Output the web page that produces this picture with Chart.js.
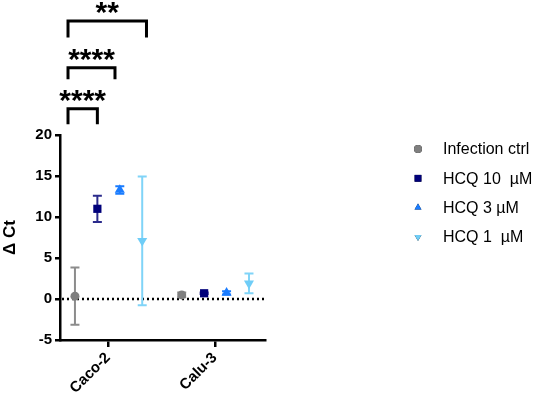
<!DOCTYPE html>
<html>
<head>
<meta charset="utf-8">
<script src="https://cdn.jsdelivr.net/npm/chart.js@4"></script>
<style>
  body { margin: 0; background: #fff; }
</style>
</head>
<body>
<canvas id="myChart" width="536" height="397"></canvas>
<script>
// values
var categories = ['Caco-2', 'Calu-3'];
var seriesNames = ['Infection ctrl', 'HCQ 10  \u00b5M', 'HCQ 3 \u00b5M', 'HCQ 1  \u00b5M'];
var ctrlMean = [0.35, 0.5];
var ctrlSd = [3.5, 0.3];
var hcq10Mean = [11.0, 0.7];
var hcq10Sd = [1.6, 0.1];
var hcq3Mean = [13.3, 0.75];
var hcq3Sd = [0.45, 0.2];
var hcq1Mean = [7.1, 1.9];
var hcq1Sd = [7.85, 1.2];
var yTicks = [-5, 0, 5, 10, 15, 20];

// significance brackets (Caco-2 group)
var sigLabels = ['****', '****', '**'];
var sigFrom = [-0.375, -0.375, -0.375];
var sigTo = [-0.1, 0.065, 0.36];
var sigTop = [23.2, 28.2, 33.9];
var sigLeg = [21.3, 26.8, 31.9];

var means = [ctrlMean, hcq10Mean, hcq3Mean, hcq1Mean];
var sds = [ctrlSd, hcq10Sd, hcq3Sd, hcq1Sd];
var dodge = [-0.31, -0.10, 0.11, 0.32];
var colors = ['#7f7f7f', '#00007a', '#1a7cff', '#6fcdf7'];
var barColors = ['#8c8c8c', '#2b2b8c', '#1a7cff', '#80d4f8'];
var shapes = ['circle', 'rect', 'triangle', 'triangle'];
var rotations = [0, 0, 0, 180];
var radii = [4.5, 5.8, 5.8, 5.8];

var datasets = [];
for (var s = 0; s < seriesNames.length; s++) {
    var pts = [];
    for (var c = 0; c < categories.length; c++) {
        pts.push({ x: c + dodge[s], y: means[s][c], sd: sds[s][c] });
    }
    datasets.push({
        label: seriesNames[s],
        data: pts,
        backgroundColor: colors[s],
        borderColor: colors[s],
        borderWidth: 0,
        pointStyle: shapes[s],
        rotation: rotations[s],
        pointRadius: radii[s],
        pointHoverRadius: radii[s],
        errColor: barColors[s]
    });
}

var font = 'Liberation Sans, Arial, Helvetica, sans-serif';

var extras = {
    id: 'extras',
    beforeDatasetsDraw: function(chart) {
        var ctx = chart.ctx;
        var xs = chart.scales.x, ys = chart.scales.y;
        // dotted zero line
        ctx.save();
        ctx.strokeStyle = '#000';
        ctx.lineWidth = 2.5;
        ctx.setLineDash([2, 3]);
        ctx.beginPath();
        ctx.moveTo(chart.chartArea.left + 2, ys.getPixelForValue(0));
        ctx.lineTo(chart.chartArea.right, ys.getPixelForValue(0));
        ctx.stroke();
        ctx.restore();
        // error bars
        chart.data.datasets.forEach(function(ds) {
            ctx.save();
            ctx.strokeStyle = ds.errColor;
            ctx.lineWidth = 2;
            ds.data.forEach(function(p) {
                var x = xs.getPixelForValue(p.x);
                var y1 = ys.getPixelForValue(p.y - p.sd);
                var y2 = ys.getPixelForValue(p.y + p.sd);
                ctx.beginPath();
                ctx.moveTo(x, y1); ctx.lineTo(x, y2);
                ctx.moveTo(x - 4.5, y1); ctx.lineTo(x + 4.5, y1);
                ctx.moveTo(x - 4.5, y2); ctx.lineTo(x + 4.5, y2);
                ctx.stroke();
            });
            ctx.restore();
        });
    },
    afterDraw: function(chart) {
        var ctx = chart.ctx;
        var xs = chart.scales.x, ys = chart.scales.y;
        // brackets
        ctx.save();
        ctx.strokeStyle = '#000';
        ctx.fillStyle = '#000';
        ctx.lineWidth = 3;
        ctx.lineCap = 'butt';
        ctx.textAlign = 'center';
        ctx.textBaseline = 'alphabetic';
        ctx.font = 'bold 30px ' + font;
        for (var i = 0; i < sigLabels.length; i++) {
            var xa = xs.getPixelForValue(sigFrom[i]);
            var xb = xs.getPixelForValue(sigTo[i]);
            var yt = ys.getPixelForValue(sigTop[i]);
            var yl = ys.getPixelForValue(sigLeg[i]);
            ctx.beginPath();
            ctx.moveTo(xa, yl); ctx.lineTo(xa, yt); ctx.lineTo(xb, yt); ctx.lineTo(xb, yl);
            ctx.stroke();
            ctx.fillText(sigLabels[i], (xa + xb) / 2, yt + 1);
        }
        ctx.restore();
        // legend
        ctx.save();
        ctx.font = '16px ' + font;
        ctx.textBaseline = 'middle';
        ctx.textAlign = 'left';
        chart.data.datasets.forEach(function(ds, i) {
            var y = 149 + i * 29.3;
            Chart.helpers.drawPoint(ctx, {
                pointStyle: ds.pointStyle,
                rotation: ds.rotation,
                radius: i === 1 ? 4.8 : 4,
                borderWidth: 0
            }, 418, y);
            ctx.fillStyle = ds.backgroundColor;
            ctx.fill();
            ctx.fillStyle = '#000';
            ctx.fillText(ds.label, 443, y + 1);
        });
        ctx.restore();
    }
};

var myChart = new Chart(document.getElementById('myChart').getContext('2d'), {
    type: 'scatter',
    data: { datasets: datasets },
    options: {
        responsive: false,
        animation: false,
        layout: { padding: { top: 135, right: 271, left: 0, bottom: 0 } },
        plugins: {
            legend: { display: false },
            tooltip: { enabled: false }
        },
        scales: {
            x: {
                type: 'linear',
                min: -0.45,
                max: 1.47,
                afterBuildTicks: function(axis) {
                    axis.ticks = categories.map(function(c, i) { return { value: i }; });
                },
                afterFit: function(scale) { scale.height = 57; },
                ticks: {
                    callback: function(v) { return categories[v]; },
                    maxRotation: 45,
                    minRotation: 45,
                    color: '#000',
                    padding: 2,
                    font: { family: font, size: 15, weight: 'bold' }
                },
                grid: { display: true, drawOnChartArea: false, drawTicks: true, tickLength: 7, color: '#000', lineWidth: 2.5 },
                border: { display: true, color: '#000', width: 2.5 }
            },
            y: {
                min: -5,
                max: 20,
                afterBuildTicks: function(axis) {
                    axis.ticks = yTicks.map(function(v) { return { value: v }; });
                },
                afterFit: function(scale) { scale.width = 60; },
                ticks: {
                    color: '#000',
                    padding: 3,
                    font: { family: font, size: 15, weight: 'bold' }
                },
                grid: { display: true, drawOnChartArea: false, drawTicks: true, tickLength: 5, color: '#000', lineWidth: 2.5 },
                border: { display: true, color: '#000', width: 2.5 },
                title: {
                    display: true,
                    text: '\u0394 Ct',
                    color: '#000',
                    padding: { top: 0, bottom: 1 },
                    font: { family: font, size: 17, weight: 'bold' }
                }
            }
        }
    },
    plugins: [extras]
});
</script>
</body>
</html>
